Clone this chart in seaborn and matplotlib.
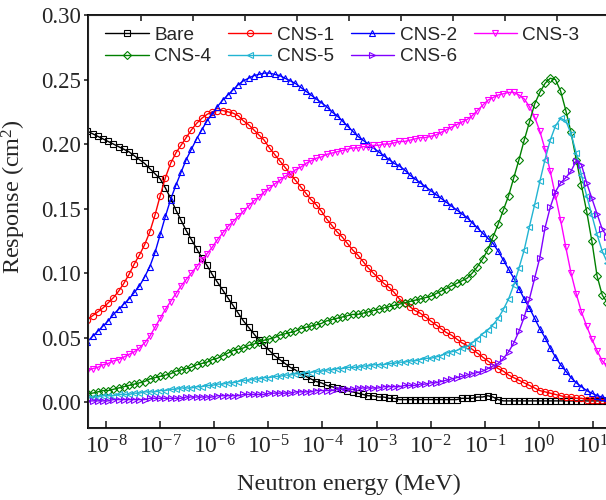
import numpy as np
import pandas as pd
import matplotlib
matplotlib.use('Agg')
import matplotlib.pyplot as plt
from matplotlib.ticker import NullLocator, FormatStrFormatter
import seaborn as sns

# energy grid (MeV): points evenly spaced in log energy, ~10 per decade
energy = np.logspace(-8.344, 1.268, 101)

# response (cm^2), one row per ~decade
bare = [0.210, 0.208, 0.206, 0.204,
        0.202, 0.200, 0.198, 0.196, 0.194, 0.191, 0.188, 0.185, 0.181, 0.177,
        0.173, 0.166, 0.158, 0.149, 0.141, 0.133, 0.126, 0.119, 0.112, 0.106,
        0.099, 0.093, 0.087, 0.081, 0.075, 0.069, 0.063, 0.058, 0.053, 0.048,
        0.044, 0.040, 0.036, 0.033, 0.030, 0.027, 0.025, 0.022, 0.020, 0.018,
        0.016, 0.015, 0.013, 0.012, 0.011, 0.010, 0.009, 0.008, 0.007, 0.006,
        0.005, 0.005, 0.004, 0.004, 0.003, 0.003, 0.002, 0.002, 0.002, 0.002,
        0.002, 0.002, 0.002, 0.002, 0.002, 0.002, 0.002, 0.002, 0.003, 0.003,
        0.003, 0.004, 0.004, 0.005, 0.004, 0.002, 0.001, 0.001, 0.001, 0.001,
        0.001, 0.001, 0.001, 0.001, 0.001, 0.001, 0.001, 0.001, 0.001, 0.001,
        0.001, 0.001, 0.001, 0.001, 0.001, 0.001, 0.001]

cns1 = [0.064, 0.067, 0.070, 0.073,
        0.077, 0.081, 0.086, 0.092, 0.099, 0.107, 0.114, 0.122, 0.132, 0.145,
        0.160, 0.174, 0.185, 0.193, 0.199, 0.205, 0.211, 0.216, 0.220, 0.223,
        0.225, 0.226, 0.226, 0.225, 0.224, 0.222, 0.218, 0.215, 0.211, 0.207,
        0.203, 0.197, 0.192, 0.187, 0.182, 0.177, 0.172, 0.167, 0.162, 0.157,
        0.153, 0.148, 0.142, 0.137, 0.132, 0.128, 0.123, 0.118, 0.114, 0.109,
        0.104, 0.100, 0.096, 0.092, 0.089, 0.085, 0.080, 0.077, 0.074, 0.071,
        0.069, 0.066, 0.063, 0.060, 0.057, 0.054, 0.052, 0.049, 0.046, 0.044,
        0.041, 0.038, 0.035, 0.032, 0.029, 0.026, 0.024, 0.021, 0.019, 0.017,
        0.015, 0.013, 0.011, 0.009, 0.008, 0.007, 0.006, 0.005, 0.004, 0.004,
        0.003, 0.003, 0.002, 0.002, 0.002, 0.002, 0.002]

cns2 = [0.047, 0.051, 0.055, 0.059,
        0.063, 0.068, 0.072, 0.076, 0.080, 0.085, 0.090, 0.097, 0.105, 0.116,
        0.130, 0.144, 0.157, 0.168, 0.178, 0.188, 0.196, 0.204, 0.211, 0.218,
        0.223, 0.229, 0.234, 0.238, 0.242, 0.246, 0.249, 0.251, 0.253, 0.254,
        0.255, 0.255, 0.254, 0.253, 0.251, 0.249, 0.247, 0.244, 0.241, 0.238,
        0.235, 0.232, 0.229, 0.225, 0.222, 0.218, 0.214, 0.210, 0.206, 0.203,
        0.200, 0.197, 0.194, 0.191, 0.188, 0.185, 0.183, 0.180, 0.176, 0.173,
        0.170, 0.167, 0.164, 0.161, 0.158, 0.155, 0.152, 0.149, 0.146, 0.143,
        0.139, 0.135, 0.131, 0.127, 0.123, 0.117, 0.110, 0.103, 0.096, 0.088,
        0.080, 0.073, 0.065, 0.057, 0.050, 0.042, 0.035, 0.029, 0.024, 0.019,
        0.015, 0.012, 0.009, 0.007, 0.005, 0.004, 0.003]

cns3 = [0.024, 0.026, 0.027, 0.029,
        0.030, 0.032, 0.033, 0.035, 0.037, 0.039, 0.042, 0.046, 0.051, 0.058,
        0.065, 0.072, 0.078, 0.084, 0.090, 0.095, 0.100, 0.105, 0.110, 0.115,
        0.120, 0.126, 0.131, 0.136, 0.140, 0.144, 0.148, 0.152, 0.156, 0.159,
        0.163, 0.166, 0.169, 0.172, 0.175, 0.177, 0.180, 0.182, 0.185, 0.187,
        0.189, 0.190, 0.192, 0.193, 0.194, 0.195, 0.196, 0.197, 0.197, 0.198,
        0.198, 0.199, 0.199, 0.200, 0.200, 0.201, 0.202, 0.202, 0.203, 0.204,
        0.205, 0.205, 0.206, 0.207, 0.209, 0.211, 0.213, 0.215, 0.217, 0.219,
        0.222, 0.226, 0.230, 0.234, 0.236, 0.238, 0.239, 0.240, 0.240, 0.238,
        0.235, 0.229, 0.221, 0.210, 0.196, 0.179, 0.160, 0.141, 0.120, 0.100,
        0.084, 0.070, 0.059, 0.049, 0.040, 0.032, 0.028]

cns4 = [0.007, 0.007, 0.008, 0.009,
        0.009, 0.010, 0.011, 0.012, 0.013, 0.014, 0.015, 0.016, 0.018, 0.019,
        0.020, 0.021, 0.022, 0.024, 0.025, 0.026, 0.027, 0.029, 0.030, 0.031,
        0.033, 0.034, 0.036, 0.038, 0.040, 0.041, 0.042, 0.044, 0.045, 0.047,
        0.048, 0.049, 0.050, 0.052, 0.053, 0.054, 0.055, 0.057, 0.058, 0.059,
        0.060, 0.061, 0.063, 0.064, 0.065, 0.066, 0.067, 0.068, 0.068, 0.069,
        0.070, 0.071, 0.072, 0.073, 0.074, 0.075, 0.076, 0.077, 0.078, 0.079,
        0.080, 0.081, 0.082, 0.084, 0.086, 0.088, 0.090, 0.092, 0.094, 0.096,
        0.100, 0.105, 0.111, 0.118, 0.128, 0.138, 0.149, 0.160, 0.174, 0.188,
        0.203, 0.217, 0.231, 0.240, 0.247, 0.251, 0.250, 0.241, 0.226, 0.209,
        0.188, 0.168, 0.148, 0.125, 0.098, 0.083, 0.077]

cns5 = [0.003, 0.004, 0.004, 0.005,
        0.005, 0.005, 0.006, 0.006, 0.006, 0.007, 0.007, 0.008, 0.008, 0.008,
        0.009, 0.009, 0.010, 0.010, 0.011, 0.011, 0.011, 0.012, 0.012, 0.013,
        0.013, 0.014, 0.014, 0.015, 0.015, 0.016, 0.017, 0.017, 0.018, 0.018,
        0.019, 0.019, 0.020, 0.020, 0.021, 0.021, 0.022, 0.022, 0.023, 0.023,
        0.024, 0.024, 0.025, 0.025, 0.026, 0.026, 0.027, 0.027, 0.027, 0.028,
        0.028, 0.029, 0.029, 0.029, 0.030, 0.030, 0.031, 0.031, 0.032, 0.032,
        0.033, 0.034, 0.034, 0.035, 0.036, 0.038, 0.039, 0.040, 0.042, 0.043,
        0.046, 0.049, 0.053, 0.056, 0.060, 0.065, 0.072, 0.080, 0.091, 0.104,
        0.118, 0.136, 0.153, 0.171, 0.188, 0.203, 0.214, 0.220, 0.218, 0.208,
        0.193, 0.176, 0.160, 0.145, 0.130, 0.117, 0.108]

cns6 = [0.001, 0.001, 0.001, 0.001,
        0.001, 0.002, 0.002, 0.002, 0.002, 0.002, 0.002, 0.002, 0.003, 0.003,
        0.003, 0.003, 0.003, 0.003, 0.003, 0.004, 0.004, 0.004, 0.004, 0.004,
        0.004, 0.005, 0.005, 0.005, 0.005, 0.005, 0.006, 0.006, 0.006, 0.006,
        0.006, 0.007, 0.007, 0.007, 0.007, 0.007, 0.008, 0.008, 0.008, 0.008,
        0.009, 0.009, 0.009, 0.009, 0.010, 0.010, 0.010, 0.010, 0.011, 0.011,
        0.011, 0.011, 0.011, 0.012, 0.012, 0.012, 0.012, 0.013, 0.013, 0.013,
        0.014, 0.014, 0.015, 0.015, 0.016, 0.017, 0.018, 0.019, 0.020, 0.021,
        0.022, 0.023, 0.024, 0.026, 0.028, 0.030, 0.034, 0.039, 0.046, 0.055,
        0.066, 0.080, 0.096, 0.112, 0.135, 0.151, 0.163, 0.170, 0.174, 0.179,
        0.187, 0.184, 0.170, 0.158, 0.146, 0.134, 0.128]

names = ['Bare', 'CNS-1', 'CNS-2', 'CNS-3', 'CNS-4', 'CNS-5', 'CNS-6']
series = [bare, cns1, cns2, cns3, cns4, cns5, cns6]
colors = ['black', '#FF0000', '#0000FF', '#FF00FF', '#008000', '#22B4D2', '#8000FF']
markers = ['s', 'o', '^', 'v', 'D', '<', '>']

sns.set_style('ticks')
plt.rcParams['font.family'] = ['Liberation Serif', 'DejaVu Serif']
plt.rcParams['mathtext.fontset'] = 'custom'
plt.rcParams['mathtext.rm'] = 'Liberation Serif'
plt.rcParams['mathtext.it'] = 'Liberation Serif:italic'
plt.rcParams['mathtext.default'] = 'regular'

fig = plt.figure(figsize=(6.06, 5.0), dpi=100)
# axes run past the right edge of the figure, as in the cropped original
ax = fig.add_axes([0.1452, 0.144, 0.9225, 0.826])

for name, vals, c, m in zip(names, series, colors, markers):
    sns.lineplot(x=energy, y=vals, ax=ax, color=c, marker=m, markersize=4.5,
                 markerfacecolor='none', markeredgecolor=c, markeredgewidth=0.8,
                 linewidth=1.0, label=name)

ax.set_xscale('log')
ax.set_xlim(10**-8.333, 10**2)
ax.set_ylim(-0.02, 0.30)
ax.set_yticks(np.arange(0, 0.31, 0.05))
ax.yaxis.set_major_formatter(FormatStrFormatter('%.2f'))
ax.set_xticks(10.0 ** np.arange(-8, 2))
ax.xaxis.set_minor_locator(NullLocator())
ax.tick_params(axis='x', direction='in', length=5, width=1.2, labelsize=17, pad=5)
ax.tick_params(axis='y', direction='out', length=3, width=1.2, labelsize=16.5, pad=2)
for sp in ax.spines.values():
    sp.set_linewidth(1.3)
    sp.set_color('black')

ax.set_xlabel('Neutron energy (MeV)', fontsize=17.5)
ax.set_ylabel('Response (cm$^2$)', fontsize=17.5)
ax.xaxis.set_label_coords(0.467, -0.112)
ax.yaxis.set_label_coords(-0.108, 0.56)

# top axis: plain tick marks on their own (slightly different) scale
ax2 = ax.twiny()
ax2.set_xscale('log')
ax2.set_xlim(10**-9.02, 10**1.73)
ax2.set_xticks(10.0 ** np.arange(-8, 2))
ax2.xaxis.set_minor_locator(NullLocator())
ax2.set_xticklabels([])
ax2.tick_params(axis='x', direction='in', length=4, width=1.2)

h, l = ax.get_legend_handles_labels()
order = [0, 4, 1, 5, 2, 6, 3]
ax.legend([h[i] for i in order], [l[i] for i in order], ncol=4, frameon=False,
          loc='upper left', bbox_to_anchor=(0.031, 0.972), borderaxespad=0, borderpad=0,
          handlelength=2.27, handletextpad=0.3, columnspacing=0.88, labelspacing=0.22,
          prop={'family': 'Liberation Sans', 'size': 13.7})

fig.savefig('out.png', dpi=100)
